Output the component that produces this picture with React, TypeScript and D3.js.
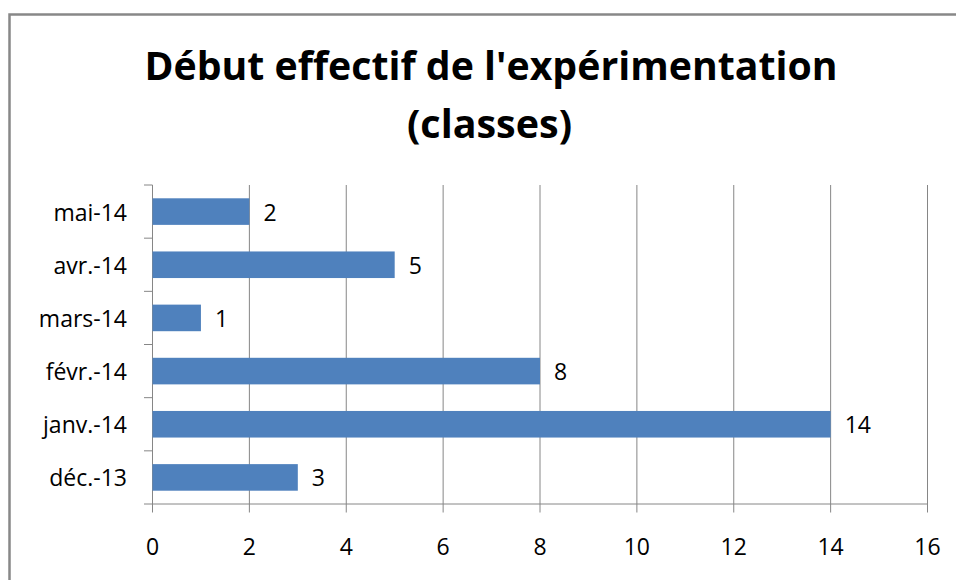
import React from "react";
import * as d3 from "d3";

const categories = ["mai-14", "avr.-14", "mars-14", "févr.-14", "janv.-14", "déc.-13"];
const values = [2, 5, 1, 8, 14, 3];
const xTicks = [0, 2, 4, 6, 8, 10, 12, 14, 16];
const titleLines = ["Début effectif de l'expérimentation", "(classes)"];

const W = 956;
const H = 580;
const plot = { left: 152.5, right: 927.5, top: 185, bottom: 504 };
const GRID = "#868686";
const BAR = "#4F81BD";
const FONT = "'Open Sans', 'Liberation Sans', sans-serif";

export default function App() {
  const x = d3.scaleLinear().domain([0, 16]).range([plot.left, plot.right]);
  const y = d3
    .scaleBand<string>()
    .domain(categories)
    .range([plot.top, plot.bottom])
    .paddingInner(0.5)
    .paddingOuter(0.25);
  const step = y.step();
  const boundaries = d3.range(categories.length + 1).map((i) => plot.top + i * step);

  return (
    <svg
      width={W}
      height={H}
      style={{ position: "absolute", left: 0, top: 0, background: "#fff" }}
      fontFamily={FONT}
    >
      <rect x={0} y={0} width={W} height={H} fill="#fff" />
      <rect x={9.5} y={14.5} width={W + 20} height={H + 20} fill="none" stroke="#888" strokeWidth={2.5} />

      <text x={491} y={80} textAnchor="middle" fontSize={40} fontWeight="bold" fill="#000"
        textLength={693} lengthAdjust="spacingAndGlyphs">
        {titleLines[0]}
      </text>
      <text x={489.5} y={138} textAnchor="middle" fontSize={40} fontWeight="bold" fill="#000"
        textLength={165} lengthAdjust="spacingAndGlyphs">
        {titleLines[1]}
      </text>

      {xTicks.map((t) => (
        <g key={"g" + t}>
          <line x1={x(t)} x2={x(t)} y1={plot.top} y2={plot.bottom + 8.5} stroke={GRID} strokeWidth={1} />
          <text x={x(t)} y={555} textAnchor="middle" fontSize={23} fill="#000">
            {t}
          </text>
        </g>
      ))}
      <line x1={plot.left} x2={plot.right} y1={plot.bottom} y2={plot.bottom} stroke={GRID} strokeWidth={1} />
      {boundaries.map((b, i) => (
        <line key={"b" + i} x1={plot.left - 8.5} x2={plot.left} y1={b} y2={b} stroke={GRID} strokeWidth={1} />
      ))}

      {categories.map((c, i) => (
        <g key={c}>
          <rect x={x(0)} y={y(c)!} width={x(values[i]) - x(0)} height={y.bandwidth()} fill={BAR} />
          <text x={x(values[i]) + 14} y={y(c)! + y.bandwidth() / 2} dominantBaseline="central"
            fontSize={23} fill="#000">
            {values[i]}
          </text>
          <text x={127} y={y(c)! + y.bandwidth() / 2} dominantBaseline="central" textAnchor="end"
            fontSize={23} fill="#000">
            {c}
          </text>
        </g>
      ))}
    </svg>
  );
}
